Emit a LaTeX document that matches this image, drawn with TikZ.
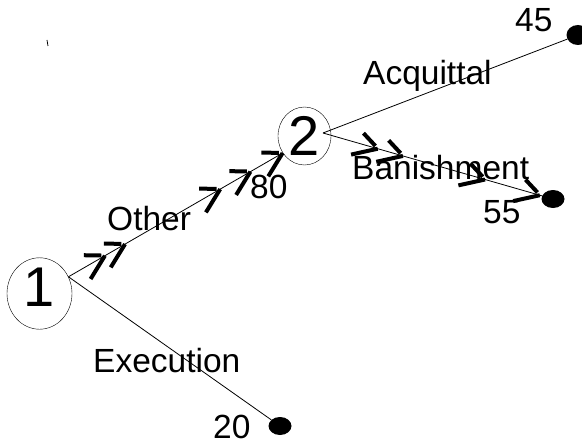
\documentclass[tikz,border=0pt]{standalone}
\usepackage{fontspec}
\setmainfont{Liberation Sans}
\usetikzlibrary{shapes.geometric,decorations.markings}
\tikzset{
  chance/.style={draw,ellipse,inner sep=0pt,minimum width=65pt,minimum height=71pt,
    font=\fontsize{56}{60}\selectfont},
  leaf/.style={fill,ellipse,inner sep=0pt,minimum width=23pt,minimum height=18pt},
  lbl/.style={anchor=base west,inner sep=0pt,font=\fontsize{33.5}{40}\selectfont},
  branch/.style={line width=0.8pt},
  barb/.style={line width=4pt}
}
\newcommand{\hop}{\draw[barb] (-24,13) -- (0,0); \draw[barb] (-18,-11) -- (-3,-2);}
\begin{document}
\begin{tikzpicture}[x=1pt,y=-1pt]
	  \useasboundingbox (0,0) rectangle (582,444);
	  \node (n1) [chance, text depth=12pt] at (39.5,293.5) {1};
	  \node (n2) [chance, minimum width=53pt, minimum height=58pt] at (304.5,136) {2};
	  \coordinate (o2) at (323,133);
	  \node (l45) [leaf, minimum height=20pt] at (578,35) {};
	  \node (l55) [leaf] at (553,199) {};
	  \node (l20) [leaf] at (280,426) {};
	  \node (oth) [lbl] at (107,230) {Other};
	  \node (v80) [lbl] at (250,198) {80};
	  \node (acq) [lbl] at (363,85) {Acquittal};
	  \node (v45) [lbl] at (515,32) {45};
	  \node (ban) [lbl] at (352,179) {Banishment};
	  \node (v55) [lbl] at (483,223) {55};
	  \node (exe) [lbl] at (93,372) {Execution};
	  \node (v20) [lbl] at (213,438) {20};
	  \draw[branch, postaction={decorate}, decoration={markings,
	    mark=at position 0.17 with {\hop},
	    mark=at position 0.264 with {\hop},
	    mark=at position 0.708 with {\hop},
	    mark=at position 0.849 with {\hop},
	    mark=at position 0.999 with {\hop}}] (n1.30) -- (n2.218);
	  \draw[branch] (o2) -- (l45);
	  \draw[branch, postaction={decorate}, decoration={markings,
	    mark=at position 0.25 with {\hop},
	    mark=at position 0.365 with {\hop},
	    mark=at position 0.74 with {\hop},
	    mark=at position 0.99 with {\hop}}] (o2) -- (l55);
	  \draw[branch] (n1.30) -- (l20);
	  \draw[branch] (47,40) -- (48,46);
	\end{tikzpicture}
\end{document}
